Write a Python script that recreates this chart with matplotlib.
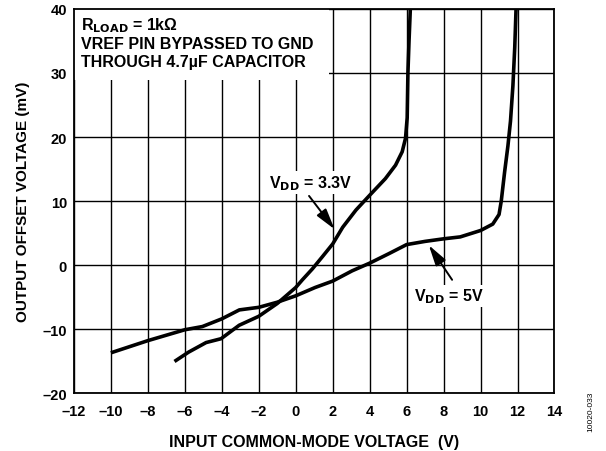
import matplotlib
matplotlib.use("Agg")
import matplotlib.pyplot as plt
from matplotlib.patches import Rectangle

plt.rcParams['font.family'] = ['Liberation Sans', 'DejaVu Sans']
plt.rcParams['font.weight'] = 'bold'

# VDD = 3.3V curve
x_33 = [-6.56, -5.8, -4.85, -4.04, -3.06, -2.0, -1.0, 0.0, 0.36, 0.9, 1.44, 2.0, 2.54,
        3.26, 4.0, 4.85, 5.4, 5.76, 5.94, 6.03, 6.07, 6.13, 6.2]
y_33 = [-15.05, -13.6, -12.1, -11.5, -9.4, -8.0, -6.0, -3.5, -2.3, -0.6, 1.3, 3.3, 5.9,
        8.6, 10.9, 13.5, 15.6, 17.7, 19.8, 23.0, 30.0, 35.0, 40.0]

# VDD = 5V curve
x_5 = [-10.0, -8.0, -6.0, -5.05, -4.0, -3.05, -2.0, -1.0, 0.0, 1.05, 2.0, 3.05,
       4.0, 5.05, 6.0, 7.0, 8.0, 8.9, 10.0, 10.66, 11.0, 11.12, 11.3, 11.48,
       11.62, 11.75, 11.85, 11.92]
y_5 = [-13.7, -11.8, -10.1, -9.6, -8.4, -7.0, -6.6, -5.8, -4.8, -3.5, -2.5, -0.9,
       0.3, 1.8, 3.2, 3.7, 4.1, 4.4, 5.4, 6.4, 7.9, 10.0, 14.5, 18.6,
       22.5, 28.0, 34.0, 40.0]

x_ticks = [-12, -10, -8, -6, -4, -2, 0, 2, 4, 6, 8, 10, 12, 14]
x_tick_labels = ['–12', '–10', '–8', '–6', '–4', '–2', '0', '2', '4', '6', '8', '10', '12', '14']
y_ticks = [-20, -10, 0, 10, 20, 30, 40]
y_tick_labels = ['–20', '–10', '0', '10', '20', '30', '40']

fig = plt.figure(figsize=(6.06, 4.52), dpi=100)
ax = fig.add_axes([0.122, 0.128, 0.793, 0.850])

ax.set_xlim(-12, 14)
ax.set_ylim(-20, 40)
ax.set_xticks(x_ticks)
ax.set_xticklabels(x_tick_labels)
ax.set_yticks(y_ticks)
ax.set_yticklabels(y_tick_labels)
ax.tick_params(length=0, labelsize=10.5, pad=5)
ax.tick_params(axis='x', pad=8)
for lab in ax.get_xticklabels() + ax.get_yticklabels():
    lab.set_fontweight('bold')

ax.grid(True, color='black', linewidth=1.0, zorder=1)
ax.set_axisbelow(True)
for sp in ax.spines.values():
    sp.set_linewidth(1.3)
    sp.set_zorder(5)

# white box behind header text
ax.add_patch(Rectangle((-12, 28.9), 13.8, 11.1, facecolor='white', edgecolor='none', zorder=2))

ax.plot(x_33, y_33, color='black', linewidth=2.6, zorder=4, solid_capstyle='butt')
ax.plot(x_5, y_5, color='black', linewidth=2.6, zorder=4, solid_capstyle='butt')

ax.text(-11.6, 39.0, r'R$_{\mathbf{LOAD}}$ = 1kΩ' + '\nVREF PIN BYPASSED TO GND\nTHROUGH 4.7µF CAPACITOR',
        fontsize=11.5, fontweight='bold', va='top', ha='left', linespacing=1.2, zorder=6)

arrow = dict(arrowstyle='-|>,head_length=0.9,head_width=0.25', color='black', lw=1.4,
             mutation_scale=14, shrinkA=0, shrinkB=0)
ax.text(0.8, 12.9, r'V$_{\mathbf{DD}}$ = 3.3V', fontsize=11.5, fontweight='bold',
        ha='center', va='center', zorder=6,
        bbox=dict(boxstyle='square,pad=0.12', facecolor='white', edgecolor='none'))
ax.annotate('', xy=(2.1, 5.6), xytext=(0.72, 10.8), arrowprops=arrow, zorder=6)

ax.text(8.3, -4.8, r'V$_{\mathbf{DD}}$ = 5V', fontsize=11.5, fontweight='bold',
        ha='center', va='center', zorder=6,
        bbox=dict(boxstyle='square,pad=0.12', facecolor='white', edgecolor='none'))
ax.annotate('', xy=(7.2, 3.1), xytext=(8.46, -2.3), arrowprops=arrow, zorder=6)

ax.set_xlabel('INPUT COMMON-MODE VOLTAGE  (V)', fontsize=11.5, fontweight='bold', labelpad=11)
ax.set_ylabel('OUTPUT OFFSET VOLTAGE (mV)', fontsize=11, fontweight='bold', labelpad=9)

fig.text(0.975, 0.09, '10020-033', rotation=90, fontsize=6, fontweight='normal',
         ha='center', va='center')

fig.savefig('out.png', dpi=100)
